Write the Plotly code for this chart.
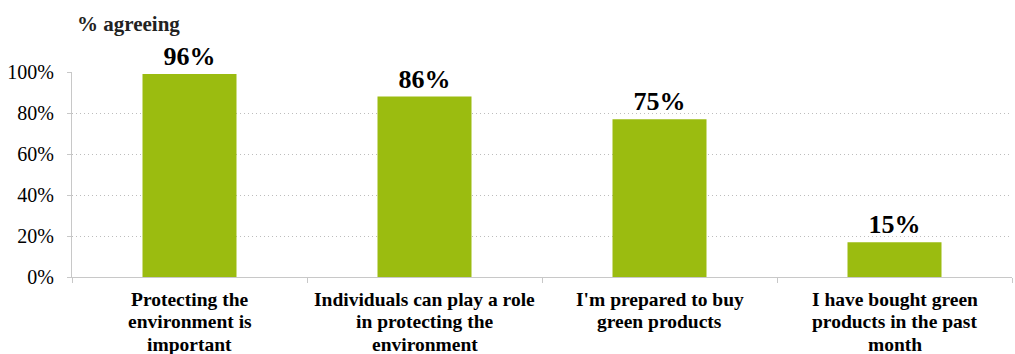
import plotly.graph_objects as go

categories = [
    "Protecting the<br>environment is<br>important",
    "Individuals can play a role<br>in protecting the<br>environment",
    "I'm prepared to buy<br>green products",
    "I have bought green<br>products in the past<br>month",
]
values = [99, 88, 77, 17]
labels = ["96%", "86%", "75%", "15%"]
tick_vals = [0, 20, 40, 60, 80, 100]
tick_text = ["0%", "20%", "40%", "60%", "80%", "100%"]

serif = "Liberation Serif"
cat_size = 19.5
line_gap = 22.7

fig = go.Figure(
    go.Bar(
        x=categories,
        y=values,
        text=["<b>%s</b>" % t for t in labels],
        textposition="outside",
        textfont=dict(family=serif, size=26, color="#000000"),
        cliponaxis=False,
        marker=dict(color="#9BBC10", line=dict(width=0)),
        width=0.4,
    )
)

annotations = [
    dict(
        text="<b>% agreeing</b>",
        xref="paper", yref="paper",
        x=0.0, y=1,
        xanchor="left", yanchor="middle",
        yshift=48, xshift=3,
        showarrow=False,
        font=dict(family=serif, size=21, color="#222222"),
    )
]
for cat in categories:
    for i, line in enumerate(cat.split("<br>")):
        annotations.append(
            dict(
                text="<b>%s</b>" % line,
                x=cat, xref="x",
                y=0, yref="paper",
                xanchor="center", yanchor="middle",
                yshift=-(22 + i * line_gap),
                showarrow=False,
                font=dict(family=serif, size=cat_size, color="#000000"),
            )
        )

fig.update_layout(
    width=1015,
    height=354,
    margin=dict(l=72, r=3, t=72, b=77),
    paper_bgcolor="white",
    plot_bgcolor="white",
    showlegend=False,
    font=dict(family=serif, color="#000000"),
    annotations=annotations,
)

fig.update_yaxes(
    range=[0, 100],
    tickvals=tick_vals,
    ticktext=tick_text,
    tickfont=dict(family=serif, size=20, color="#000000"),
    showgrid=True,
    gridcolor="#BDBDBD",
    griddash="1px,3px",
    gridwidth=1,
    showline=True,
    linecolor="#C8C8C8",
    linewidth=1,
    ticks="outside",
    ticklen=4,
    tickcolor="#C8C8C8",
    zeroline=False,
    ticklabelstandoff=9,
)

fig.update_xaxes(
    showticklabels=False,
    showline=True,
    linecolor="#C8C8C8",
    linewidth=1,
    ticks="outside",
    tickson="boundaries",
    ticklen=5,
    tickcolor="#C8C8C8",
    showgrid=False,
)

fig.write_html("out.html")
